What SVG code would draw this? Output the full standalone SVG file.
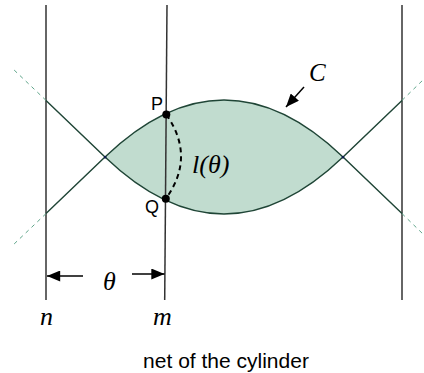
<svg xmlns="http://www.w3.org/2000/svg" width="424" height="373" viewBox="0 0 424 373">
<defs>
<marker id="ahw" viewBox="0 0 12 10" refX="12" refY="5" markerWidth="14" markerHeight="11" markerUnits="userSpaceOnUse" orient="auto">
<path d="M0,0 L12,5 L0,10 Z" fill="#000"/>
</marker>
</defs>
<style>
.vline{stroke:#333;stroke-width:1.5;fill:none}
.curve{stroke:#1f4536;stroke-width:1.4;fill:none}
.dash{stroke:#5fa58a;stroke-width:1;stroke-dasharray:4 4;fill:none}
.math{font-family:"Liberation Serif",serif;font-style:italic;fill:#000}
.sans{font-family:"Liberation Sans",Arial,sans-serif;fill:#000}
.arrow{stroke:#000;stroke-width:1.5;fill:none}
</style>
<rect width="424" height="373" fill="#fff"/>
<g id="lens">
<path d="M105,157 Q224,43 343,157 Q224,271 105,157 Z" fill="#c1dccf" stroke="none"/>
</g>
<g id="connectors">
<line class="vline" x1="46" y1="5" x2="46" y2="300"/>
<line class="vline" x1="167" y1="5" x2="164.7" y2="300"/>
<line class="vline" x1="402" y1="5" x2="402" y2="300"/>
<path class="curve" d="M46,100.4 L105,157 Q224,43 343,157 L402,100.4"/>
<path class="curve" d="M46,213.6 L105,157 Q224,271 343,157 L402,213.6"/>
<line class="dash" x1="46" y1="100.4" x2="12" y2="68"/>
<line class="dash" x1="46" y1="213.6" x2="12" y2="246"/>
<line class="dash" x1="402" y1="100.4" x2="424" y2="79"/>
<line class="dash" x1="402" y1="213.6" x2="424" y2="235"/>
<path d="M166.3,114.5 Q196,157 165.8,198.7" stroke="#000" stroke-width="2" stroke-dasharray="5 4" fill="none"/>
<line class="arrow" x1="304" y1="87" x2="286" y2="107" marker-end="url(#ahw)"/>
<line class="arrow" x1="83" y1="276" x2="47" y2="276" marker-end="url(#ahw)"/>
<line class="arrow" x1="132" y1="274" x2="164.5" y2="274" marker-end="url(#ahw)"/>
</g>
<g id="crossings">
<rect x="104" y="156" width="2.4" height="2.4" fill="#0b1a4a"/>
<rect x="341.8" y="156" width="2.4" height="2.4" fill="#0b1a4a"/>
</g>
<g id="P">
<circle cx="166.3" cy="114.5" r="4" fill="#000"/>
<text class="sans" x="151" y="110" font-size="18">P</text>
</g>
<g id="Q">
<circle cx="165.8" cy="198.7" r="4" fill="#000"/>
<text class="sans" x="145" y="213" font-size="18">Q</text>
</g>
<g id="labels">
<text class="math" x="309" y="81" font-size="25">C</text>
<text class="math" x="192" y="173" font-size="26">l(θ)</text>
<text class="math" x="103" y="290" font-size="26">θ</text>
<text class="math" x="40" y="325" font-size="26">n</text>
<text class="math" x="153" y="325" font-size="26">m</text>
<text class="sans" x="226" y="368" font-size="21" text-anchor="middle">net of the cylinder</text>
</g>
</svg>
